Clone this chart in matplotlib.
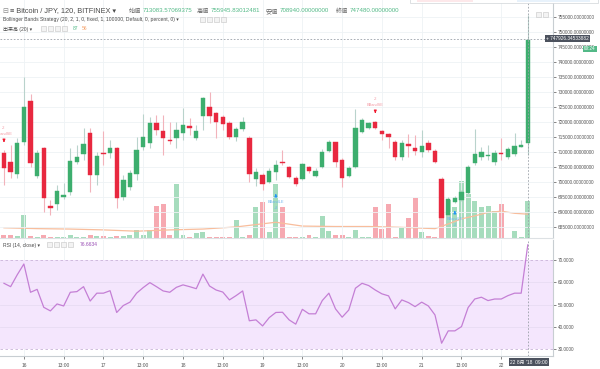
import matplotlib
matplotlib.use('Agg')
import matplotlib.pyplot as plt
from matplotlib.patches import Rectangle

plt.rcParams['font.family'] = ['Liberation Sans', 'Noto Sans CJK JP', 'DejaVu Sans']

# 2h candles, Bitcoin / JPY (Bitfinex)
opens = [709600, 706600, 702600, 713300, 727000, 701950, 711300, 691900, 692600, 694900,
         696600, 706600, 709300, 716300, 702300, 709500, 709650, 711300, 694900, 698250,
         702600, 711650, 713000, 719650, 717000, 714150, 714650, 716300, 718500, 714650,
         722000, 725000, 723000, 721700, 719650, 715000, 717650, 714650, 700950, 702300,
         699950, 703300, 706600, 704950, 701300, 700950, 704950, 701950, 704950, 710300,
         713300, 707300, 701950, 704950, 716650, 718000, 720000, 717000, 716000, 713300,
         708300, 712650, 711300, 710000, 713000, 710300, 700950, 688900, 693250, 693900,
         696250, 706300, 708300, 708650, 706600, 709800, 708300, 709300, 711800, 713084]
highs = [710600, 712300, 714650, 735050, 729350, 710650, 711650, 693900, 698950, 699600,
         711300, 712300, 718000, 718000, 709950, 717000, 714000, 711650, 702300, 703950,
         715000, 722700, 721700, 722350, 722350, 720000, 720000, 724700, 721350, 719000,
         728350, 730050, 723350, 722350, 720350, 718350, 721700, 715300, 704600, 702950,
         704600, 707300, 710650, 705300, 701950, 706300, 705300, 704600, 710950, 714000,
         713300, 707950, 705300, 724350, 721350, 720000, 720350, 717350, 716300, 714000,
         714000, 716000, 715650, 717350, 714000, 711000, 701600, 694900, 695250, 697250,
         705600, 717650, 711650, 712300, 710650, 714650, 711650, 716300, 714000, 755946]
lows = [698900, 701300, 701300, 712300, 704950, 701300, 689900, 688900, 690600, 694250,
        695600, 705950, 707300, 696600, 698950, 705600, 707950, 691250, 693900, 697250,
        700600, 710650, 711300, 715650, 708950, 712650, 711300, 714000, 715650, 714000,
        717350, 719650, 714650, 717350, 714300, 713650, 717000, 699950, 698600, 697250,
        699600, 700600, 705600, 701300, 698600, 700600, 702950, 701600, 704600, 709950,
        704950, 698250, 701600, 704600, 716300, 717650, 717650, 714000, 711300, 707300,
        707300, 708300, 709000, 708300, 710000, 706300, 687550, 688200, 692900, 693600,
        695600, 705600, 707300, 707300, 705600, 707300, 707650, 708650, 711650, 708940]
closes = [704600, 703300, 712950, 725000, 706300, 709650, 694600, 691250, 696950, 695600,
          706950, 708300, 712650, 702300, 708650, 709200, 711300, 694600, 700600, 702950,
          710650, 715000, 719650, 717300, 714650, 713650, 717300, 719000, 718100, 717000,
          728050, 722000, 720000, 719350, 715000, 717650, 720000, 702600, 703300, 699300,
          703600, 705600, 706300, 701600, 699300, 705950, 703600, 703600, 709950, 713300,
          706600, 701300, 704600, 718000, 720650, 719650, 718000, 716000, 715000, 708300,
          713000, 712000, 710300, 712000, 710650, 706600, 687900, 694250, 694600, 696600,
          704950, 709300, 709950, 708950, 709650, 709300, 711000, 712000, 712150, 747480]
volumes = [6, 6, 4, 54, 4, 2, 6, 2, 2, 2,
           6, 2, 2, 6, 4, 4, 2, 4, 4, 6,
           19, 6, 18, 75, 80, 6, 127, 8, 2, 12,
           13, 2, 3, 3, 2, 42, 2, 8, 73, 84,
           13, 127, 72, 2, 2, 2, 8, 2, 52, 16,
           8, 8, 2, 19, 2, 2, 72, 21, 80, 2,
           25, 47, 95, 13, 5, 3, 115, 89, 72, 134,
           103, 86, 72, 75, 63, 81, 1, 17, 2, 87]
# volume SMA(20), read at a few bars
vol_ma_idx = [0, 5, 10, 15, 20, 25, 30, 35, 41, 45, 50, 55, 60, 65, 67, 69, 71, 73, 75, 77, 79]
vol_ma = [24, 22, 21, 19, 16, 19, 21, 26, 37, 28, 27, 27, 25, 22, 33, 45, 52, 60, 63, 58, 56]
rsi = [59.5, 58.0, 63.3, 68.1, 55.5, 56.8, 48.8, 47.2, 50.3, 49.4,
       55.5, 55.8, 58.0, 51.6, 55.1, 55.1, 56.2, 46.5, 49.6, 51.1,
       55.1, 57.6, 59.8, 58.0, 56.1, 55.5, 57.7, 58.8, 58.0, 57.1,
       63.6, 58.3, 56.5, 55.6, 52.1, 54.0, 56.1, 42.8, 43.2, 40.5,
       44.2, 46.5, 46.6, 43.2, 41.3, 47.9, 45.9, 45.9, 51.8, 55.1,
       48.1, 44.4, 47.6, 57.3, 59.5, 58.5, 56.5, 54.8, 53.9, 48.1,
       52.1, 50.9, 49.1, 51.1, 49.4, 45.4, 32.8, 38.3, 38.3, 40.2,
       48.7, 52.5, 53.3, 51.8, 52.5, 52.5, 54.0, 55.1, 55.1, 76.66]

# strategy signals: bar, side, arrow price
sig_idx = [0, 41, 56, 68]
sig_side = ['short', 'long', 'short', 'long']
sig_price = [712300, 696900, 722000, 691250]

time_ticks = [3, 9, 15, 21, 27, 33, 39, 45, 51, 57, 63, 69, 75]
time_labels = ['16', '13:00', '17', '13:00', '18', '13:00', '19', '13:00',
               '20', '13:00', '21', '13:00', '22']
price_ticks = list(range(685000, 760000, 5000))
rsi_ticks = [30, 40, 50, 60, 70]

UP, DOWN = '#3dae6e', '#e8283f'
UP_WICK, DOWN_WICK = '#b9d3cc', '#f2b3bb'
UP_VOL, DOWN_VOL = '#a6dcbd', '#f6a9b1'
GRID = '#eef2f5'
TXT = '#4a4a4a'

W, H = 600, 369


def box(x0, y0, x1, y1):
    return [x0 / W, 1 - y1 / H, (x1 - x0) / W, (y1 - y0) / H]


def fy(y):
    return 1 - y / H


def rect(x0, y0, x1, y1, fc, ec='none', lw=0.4):
    fig.patches.append(Rectangle((x0 / W, fy(y1)), (x1 - x0) / W, (y1 - y0) / H,
                                 transform=fig.transFigure, facecolor=fc,
                                 edgecolor=ec, lw=lw, zorder=10))


fig = plt.figure(figsize=(6, 3.69), dpi=100)
fig.patch.set_facecolor('white')

ax = fig.add_axes(box(0, 0, 553, 238))
axv = ax.twinx()
ax.set_zorder(axv.get_zorder() + 1)
ax.patch.set_visible(False)
axr = fig.add_axes(box(0, 240, 553, 356), sharex=ax)

n = len(closes)
xs = list(range(n))
ups = [c >= o for o, c in zip(opens, closes)]

# volume
axv.bar(xs, volumes, width=0.75, color=[UP_VOL if u else DOWN_VOL for u in ups], zorder=1)
axv.plot(vol_ma_idx, vol_ma, color='#f8bd9c', lw=0.9, zorder=2)
axv.set_ylim(0, 559)
axv.axis('off')

# grid
for t in time_ticks:
    ax.axvline(t, color=GRID, lw=0.6, zorder=0)
    axr.axvline(t, color=GRID, lw=0.6, zorder=0)
for p in price_ticks:
    ax.axhline(p, color=GRID, lw=0.6, zorder=0)

# candles
ax.vlines(xs, lows, highs, colors=[UP_WICK if u else DOWN_WICK for u in ups], lw=0.8, zorder=2)
bottoms = [min(o, c) for o, c in zip(opens, closes)]
heights = [max(abs(c - o), 350) for o, c in zip(opens, closes)]
ax.bar(xs, heights, bottom=bottoms, width=0.66, color=[UP if u else DOWN for u in ups],
       edgecolor=[UP if u else DOWN for u in ups], lw=0.3, zorder=3)

# strategy signals
for i, side, p in zip(sig_idx, sig_side, sig_price):
    if side == 'short':
        c, tc, d, va = '#f0192f', '#f49aa4', 1, 'bottom'
        lab, num = 'BBandSE', '-2'
    else:
        c, tc, d, va = '#2196f3', '#6fb6ee', -1, 'top'
        lab, num = 'BBandLE', '+2'
    ax.annotate('', xy=(i, p), xytext=(0, 5 * d), textcoords='offset points',
                arrowprops=dict(arrowstyle='-|>', color=c, lw=0.8, mutation_scale=3.5),
                zorder=5)
    ax.annotate(lab, xy=(i, p), xytext=(0, 6.5 * d), textcoords='offset points',
                ha='center', va=va, fontsize=2.8, color=tc, zorder=5)
    ax.annotate(num, xy=(i, p), xytext=(0, 10.5 * d), textcoords='offset points',
                ha='center', va=va, fontsize=2.8, color=tc, zorder=5)

# axes limits and price scale
ax.set_xlim(-0.6, 82.8)
ax.set_ylim(681213, 760801)
ax.yaxis.tick_right()
ax.set_yticks(price_ticks)
ax.set_yticklabels(['%.8f' % p for p in price_ticks])
ax.tick_params(axis='y', labelsize=3.4, colors='#555555', length=2, width=0.5, pad=1.2)
ax.tick_params(axis='x', bottom=False, labelbottom=False)
for s in ['top', 'left']:
    ax.spines[s].set_visible(False)
ax.spines['right'].set_color('#c8ced2')
ax.spines['right'].set_linewidth(0.8)
ax.spines['bottom'].set_color('#dde1e4')
ax.spines['bottom'].set_linewidth(0.8)

# crosshair
ax.axvline(79, color='#9aa0a8', lw=0.6, ls=(0, (2, 2)), zorder=6)
ax.axhline(747926, color='#9aa0a8', lw=0.6, ls=(0, (2, 2)), zorder=6)
axr.axvline(79, color='#9aa0a8', lw=0.6, ls=(0, (2, 2)), zorder=6)

# RSI pane
axr.axhspan(30, 70, color='#f4e6fd', zorder=0, lw=0)
for lv in [40, 50, 60]:
    axr.axhline(lv, color='#e8dcf3', lw=0.6, zorder=1)
for lv in [30, 70]:
    axr.axhline(lv, color='#c9b3d8', lw=0.6, ls=(0, (3, 3)), zorder=1)
axr.plot(xs, rsi, color='#c47fd5', lw=0.9, zorder=3)
axr.set_ylim(27.1, 78.8)
axr.yaxis.tick_right()
axr.set_yticks(rsi_ticks)
axr.set_yticklabels(['%.4f' % v for v in rsi_ticks])
axr.tick_params(axis='y', labelsize=3.4, colors='#555555', length=2, width=0.5, pad=1.2)
axr.set_xticks(time_ticks)
axr.set_xticklabels(time_labels)
axr.tick_params(axis='x', labelsize=3.5, colors='#555555', length=2, width=0.5, pad=3)
for s in ['top', 'left']:
    axr.spines[s].set_visible(False)
axr.spines['right'].set_color('#c8ced2')
axr.spines['right'].set_linewidth(0.8)
axr.spines['bottom'].set_color('#c8ced2')
axr.spines['bottom'].set_linewidth(0.8)

# header, row 1
fig.text(2 / W, fy(11), '⊟', fontsize=5, color='#888888', va='center', family='DejaVu Sans')
fig.text(10 / W, fy(11), '≡ Bitcoin / JPY, 120, BITFINEX ▾', fontsize=5.3, color=TXT, va='center')
hdr = [('始値', '713083.57069375', 129), ('高値', '755945.83012481', 197),
       ('安値', '708940.00000000', 266), ('終値', '747480.00000000', 336)]
for lab, val, x0 in hdr:
    fig.text(x0 / W, fy(11), lab, fontsize=4.4, color='#666666', va='center')
    fig.text((x0 + 14) / W, fy(11), val, fontsize=4.4, color='#53b987', va='center')

# header, rows 2 and 3
fig.text(3 / W, fy(20), 'Bollinger Bands Strategy (20, 2, 1, 0, fixed, 1, 100000, Default, 0, percent, 0) ▾',
         fontsize=3.6, color=TXT, va='center')
fig.text(3 / W, fy(29), '出来高 (20) ▾', fontsize=3.6, color=TXT, va='center')
fig.text(73 / W, fy(29), '87', fontsize=3.6, color='#53b987', va='center')
fig.text(82 / W, fy(29), '56', fontsize=3.6, color='#f5a36c', va='center')
fig.text(3 / W, fy(245), 'RSI (14, close) ▾', fontsize=3.6, color=TXT, va='center')
fig.text(80 / W, fy(245), '76.6634', fontsize=3.6, color='#9a4fb5', va='center')

for x0, y0, k in [(200, 17, 4), (41, 26, 4), (47, 242, 4), (536, 12, 2)]:
    for j in range(k):
        rect(x0 + j * 7, y0, x0 + j * 7 + 5, y0 + 5, '#f3f3f3', '#c4c4c4')

# edge of a panel at the top
rect(410, -3, 598, 3.2, 'white', '#d0d4d8', 0.5)
rect(417, -3, 473, 2.4, '#fde8ea')
rect(517, -3, 590, 2.4, '#e8f2fb')

# crosshair price label, countdown and time label
fig.text(546 / W, fy(38.5), '+ 747926.34533882', fontsize=3.4, color='white', va='center',
         bbox=dict(boxstyle='square,pad=0.25', fc='#4c525e', ec='none'))
fig.text(584 / W, fy(49), '00:24', fontsize=3.4, color='white', va='center',
         bbox=dict(boxstyle='square,pad=0.2', fc='#53b987', ec='none'))
fig.text(529 / W, fy(362), "22 8月 '18  09:00", fontsize=3.5, color='white', va='center', ha='center',
         bbox=dict(boxstyle='square,pad=0.35', fc='#4c525e', ec='none'))

fig.savefig('out.png', dpi=100)
